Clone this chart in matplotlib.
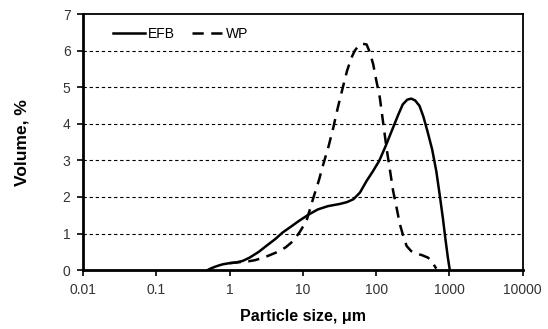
import matplotlib.pyplot as plt
from matplotlib.ticker import FixedLocator, FixedFormatter

plt.rcParams['font.family'] = ['Liberation Sans', 'DejaVu Sans']

# particle size distributions
efb_size = [0.5, 0.56, 0.63, 0.72, 0.81, 1.0, 1.23, 1.5, 1.87, 2.5, 3.16, 4.2, 5.3, 7,
            8.9, 12, 16, 22, 32, 40, 49, 60, 74, 90, 110, 135, 170, 200, 230, 265,
            300, 340, 390, 440, 500, 580, 660, 730, 810, 880, 950, 1010]
efb_vol = [0.0, 0.05, 0.09, 0.13, 0.16, 0.19, 0.21, 0.25, 0.34, 0.5, 0.66, 0.85, 1.03,
           1.2, 1.35, 1.52, 1.66, 1.75, 1.81, 1.86, 1.94, 2.12, 2.44, 2.7, 2.99, 3.4,
           3.90, 4.25, 4.53, 4.66, 4.69, 4.64, 4.49, 4.2, 3.80, 3.3, 2.71, 2.1, 1.44,
           0.85, 0.34, 0.0]

wp_size = [1.0, 1.4, 1.8, 2.2, 3.0, 4.3, 5.8, 7.4, 9.1, 11.2, 14, 16.5, 19, 22.5, 26,
           30, 35, 40, 46, 51, 57, 64, 70, 74, 82, 91, 100, 112, 125, 138, 155, 170,
           190, 210, 235, 260, 300, 355, 420, 510, 580, 660]
wp_vol = [0.19, 0.22, 0.24, 0.27, 0.35, 0.48, 0.62, 0.80, 1.05, 1.35, 2.0, 2.45, 2.9,
          3.4, 3.9, 4.45, 4.99, 5.45, 5.81, 6.0, 6.13, 6.19, 6.18, 6.17, 5.95, 5.63,
          5.2, 4.72, 4.0, 3.35, 2.7, 2.17, 1.7, 1.26, 0.92, 0.66, 0.52, 0.45, 0.41,
          0.34, 0.22, 0.04]

x_ticks = [0.01, 0.1, 1, 10, 100, 1000, 10000]
x_labels = ['0.01', '0.1', '1', '10', '100', '1000', '10000']
y_ticks = [0, 1, 2, 3, 4, 5, 6, 7]

fig = plt.figure(figsize=(5.48, 3.29), dpi=100)
ax = fig.add_axes([0.1515, 0.179, 0.8025, 0.778])

ax.plot(efb_size, efb_vol, color='black', linewidth=1.8, label='EFB',
        solid_joinstyle='round')
ax.plot(wp_size, wp_vol, color='black', linewidth=1.8, dashes=(4.5, 3), label='WP')

ax.set_xscale('log')
ax.set_xlim(0.01, 10000)
ax.set_ylim(0, 7)
ax.xaxis.set_major_locator(FixedLocator(x_ticks))
ax.xaxis.set_major_formatter(FixedFormatter(x_labels))
ax.xaxis.set_minor_locator(FixedLocator([]))
ax.set_yticks(y_ticks)

for y in range(1, 7):
    ax.axhline(y, color='black', linewidth=0.8, dashes=(3, 2.5), zorder=0)

for side in ['left', 'bottom']:
    ax.spines[side].set_linewidth(2)
for side in ['top', 'right']:
    ax.spines[side].set_linewidth(1.3)

ax.tick_params(direction='out', length=4, width=1.2, labelsize=10, labelcolor='#333333', pad=5)

ax.set_xlabel('Particle size, μm', fontsize=11.5, fontweight='bold', labelpad=9)
ax.set_ylabel('Volume, %', fontsize=12.5, fontweight='bold', labelpad=24)

ax.legend(loc='upper left', ncol=2, frameon=False, fontsize=10, handlelength=2.3,
          handletextpad=0.2, columnspacing=1.2, bbox_to_anchor=(0.04, 1.0))

fig.savefig('out.png', dpi=100)
